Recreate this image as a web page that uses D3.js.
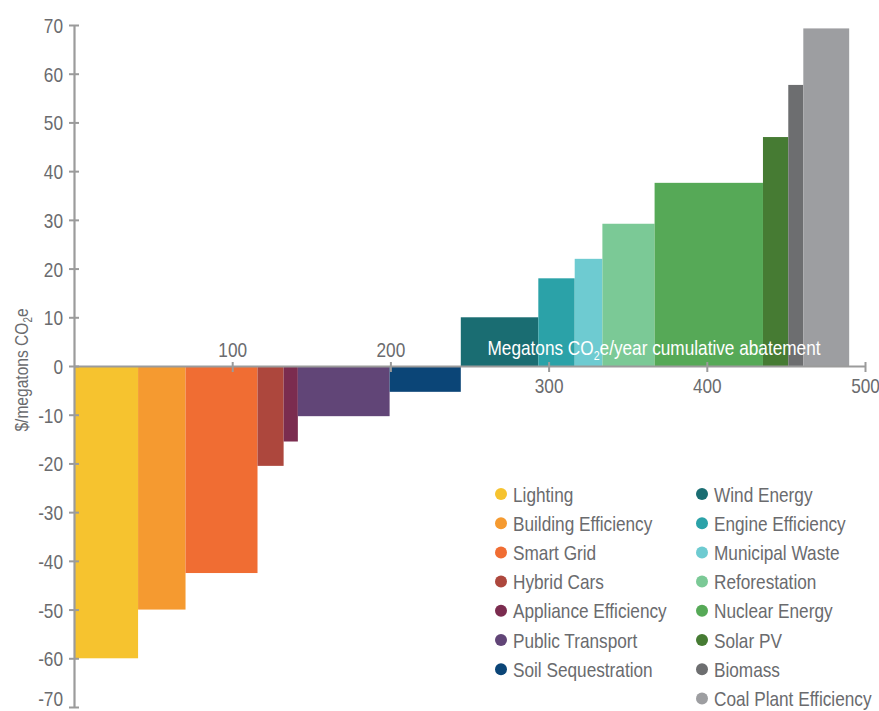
<!DOCTYPE html>
<html>
<head>
<meta charset="utf-8">
<script src="https://cdn.jsdelivr.net/npm/d3@7"></script>
<style>
  html, body { margin: 0; padding: 0; background: #fff; }
  svg { display: block; }
  text { font-family: "Liberation Sans", Arial, sans-serif; }
</style>
</head>
<body>
<svg id="chart" width="879" height="711"></svg>
<script>
// ---- data ----
const categories = ["Lighting", "Building Efficiency", "Smart Grid", "Hybrid Cars", "Appliance Efficiency",
  "Public Transport", "Soil Sequestration", "Wind Energy", "Engine Efficiency", "Municipal Waste",
  "Reforestation", "Nuclear Energy", "Solar PV", "Biomass", "Coal Plant Efficiency"];
// abatement width (megatons CO2e/year)
const abatement = [40.5, 30, 45.5, 16.5, 9, 58, 45, 49, 23, 17.5, 33, 68.5, 16, 9.5, 29];
// cost ($/megaton CO2e)
const cost = [-60, -50, -42.5, -20.5, -15.5, -10.3, -5.3, 10, 18, 22, 29.2, 37.6, 47, 57.7, 69.3];
const colors = ["#f6c32f", "#f59a30", "#f06d33", "#ad473d", "#7b2c4f", "#614577", "#0b4577",
  "#1a6d72", "#2ba2a8", "#6ecbd1", "#7bc996", "#56a957", "#467b33", "#6d6e70", "#9d9ea1"];
const yTicks = [-70, -60, -50, -40, -30, -20, -10, 0, 10, 20, 30, 40, 50, 60, 70];
const xTicks = [100, 200, 300, 400, 500];

// ---- layout ----
const svg = d3.select("#chart");
const x = d3.scaleLinear().domain([0, 500]).range([74, 865]);
const y = d3.scaleLinear().domain([-70, 70]).range([707, 25]);
const axisColor = "#9b9b9b";
const textColor = "#6a6b6e";
const SX = 0.82; // narrow face emulation
const narrow = (tx, ty) => `translate(${tx},${ty}) scale(${SX},1)`;

// bars
let cum = 0;
const bars = categories.map((c, i) => {
  const b = { name: c, x0: cum, x1: cum + abatement[i], v: cost[i], color: colors[i] };
  cum += abatement[i];
  return b;
});
svg.append("g").selectAll("rect").data(bars).join("rect")
  .attr("x", d => x(d.x0))
  .attr("width", d => x(d.x1) - x(d.x0))
  .attr("y", d => d.v >= 0 ? y(d.v) : y(0))
  .attr("height", d => Math.abs(y(d.v) - y(0)))
  .attr("fill", d => d.color);

// y axis
const yAxis = svg.append("g").attr("transform", `translate(${x(0)},0)`)
  .call(d3.axisLeft(y).tickValues(yTicks).tickFormat(d => String(d)).tickSize(5).tickSizeOuter(0));
yAxis.select(".domain").attr("stroke", axisColor).attr("stroke-width", 2.2);
yAxis.selectAll(".tick line").attr("stroke", axisColor).attr("stroke-width", 2).attr("x1", 5);
yAxis.selectAll(".tick text").attr("fill", textColor).attr("font-size", 21)
  .attr("font-family", "'Liberation Sans', Arial, sans-serif")
  .attr("x", 0).attr("dy", "0.36em")
  .attr("transform", d => narrow(-11, d === -70 ? -9 : 0));

// x axis at zero
const xAxis = svg.append("g").attr("transform", `translate(0,${y(0)})`)
  .call(d3.axisBottom(x).tickValues(xTicks).tickFormat(d => String(d)).tickSize(6).tickSizeOuter(0));
xAxis.select(".domain").attr("stroke", axisColor).attr("stroke-width", 2.2);
xAxis.selectAll(".tick line").attr("stroke", axisColor).attr("stroke-width", 2).attr("y1", -4);
xAxis.selectAll(".tick text")
  .attr("fill", textColor).attr("font-size", 21)
  .attr("font-family", "'Liberation Sans', Arial, sans-serif")
  .attr("dy", null).attr("y", 0)
  .attr("transform", d => narrow(0, d <= 200 ? -9 : 27));

// x axis title (white, inside bars)
const xt = svg.append("text")
  .attr("transform", narrow(654, y(0) - 11))
  .attr("text-anchor", "middle")
  .attr("fill", "#ffffff").attr("font-size", 21);
xt.append("tspan").text("Megatons CO");
xt.append("tspan").text("2").attr("font-size", 13).attr("dy", 5);
xt.append("tspan").text("e/year cumulative abatement").attr("dy", -5);

// y axis title
const yt = svg.append("text")
  .attr("transform", `translate(28,370) rotate(-90) scale(${SX},1)`)
  .attr("text-anchor", "middle")
  .attr("fill", textColor).attr("font-size", 19);
yt.append("tspan").text("$/megatons CO");
yt.append("tspan").text("2").attr("font-size", 12).attr("dy", 4);
yt.append("tspan").text("e").attr("dy", -4);

// legend
const legend = svg.append("g");
const rowH = 29.2;
bars.forEach((b, i) => {
  const col = i < 7 ? 0 : 1;
  const row = i < 7 ? i : i - 7;
  const cx = col === 0 ? 501 : 702;
  const cy = 494 + row * rowH;
  legend.append("circle").attr("cx", cx).attr("cy", cy).attr("r", 6).attr("fill", b.color);
  legend.append("text").attr("transform", narrow(cx + 12, cy)).attr("dy", "0.36em")
    .attr("fill", textColor).attr("font-size", 21).text(b.name);
});
</script>
</body>
</html>
